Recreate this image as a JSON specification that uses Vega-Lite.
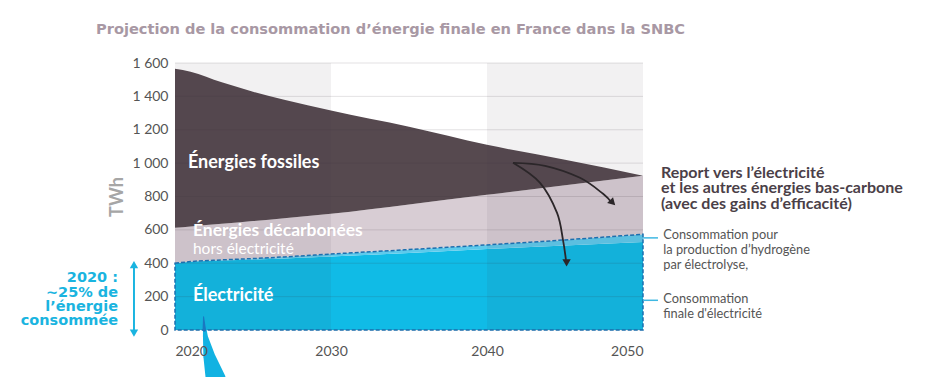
{
  "$schema": "https://vega.github.io/schema/vega-lite/v6.json",
  "width": 468,
  "height": 267,
  "autosize": {"type": "none"},
  "padding": {"left": 175, "top": 63, "right": 302, "bottom": 47},
  "background": "white",
  "config": {"view": {"stroke": null}, "font": "Lato", "axisY": {"labelOverlap": false}},
  "title": {
    "text": "Projection de la consommation d’énergie finale en France dans la SNBC",
    "anchor": "start", "frame": "group", "dx": -79, "offset": 19,
    "fontSize": 14.6, "fontWeight": "bold", "color": "#a898a4", "font": "DejaVu Sans"
  },
  "datasets": {
    "energy": [
      {"year": 2020, "elec": 400, "elecH2": 400, "decTop": 612, "total": 1566},
      {"year": 2021, "elec": 409, "elecH2": 410, "decTop": 620, "total": 1548},
      {"year": 2023, "elec": 416, "elecH2": 420, "decTop": 636, "total": 1484},
      {"year": 2025, "elec": 422, "elecH2": 428, "decTop": 653, "total": 1428},
      {"year": 2027, "elec": 428, "elecH2": 438, "decTop": 670, "total": 1380},
      {"year": 2030, "elec": 440, "elecH2": 455, "decTop": 696, "total": 1315},
      {"year": 2035, "elec": 462, "elecH2": 482, "decTop": 752, "total": 1218},
      {"year": 2040, "elec": 486, "elecH2": 510, "decTop": 810, "total": 1110},
      {"year": 2045, "elec": 506, "elecH2": 540, "decTop": 868, "total": 1020},
      {"year": 2050, "elec": 528, "elecH2": 574, "decTop": 925, "total": 925}
    ],
    "grid": [
      {"val": 0}, {"val": 200}, {"val": 400}, {"val": 600}, {"val": 800},
      {"val": 1000}, {"val": 1200}, {"val": 1400}, {"val": 1600}
    ],
    "bands": [
      {"start": 2020, "end": 2030},
      {"start": 2040, "end": 2050}
    ],
    "arrows": [
      {"arrow": "a", "ord": 1, "year": 2041.67, "val": 1002},
      {"arrow": "a", "ord": 2, "year": 2043.72, "val": 984},
      {"arrow": "a", "ord": 3, "year": 2045.96, "val": 912},
      {"arrow": "a", "ord": 4, "year": 2047.44, "val": 816},
      {"arrow": "a", "ord": 5, "year": 2048.0, "val": 762},
      {"arrow": "b", "ord": 1, "year": 2041.67, "val": 1002},
      {"arrow": "b", "ord": 2, "year": 2043.4, "val": 882},
      {"arrow": "b", "ord": 3, "year": 2044.49, "val": 702},
      {"arrow": "b", "ord": 4, "year": 2044.87, "val": 540},
      {"arrow": "b", "ord": 5, "year": 2045.06, "val": 420}
    ],
    "heads": [
      {"year": 2048.0, "val": 768, "angle": 135},
      {"year": 2045.1, "val": 410, "angle": 180}
    ],
    "inBold": [
      {"text": "Énergies fossiles", "year": 2020.83, "val": 1002},
      {"text": "Électricité", "year": 2021.15, "val": 204}
    ],
    "inBold2": [
      {"text": "Énergies décarbonées", "year": 2021.15, "val": 596}
    ],
    "inNormal": [
      {"text": "hors électricité", "year": 2021.15, "val": 486}
    ],
    "rightBold": [
      {"text": "Report vers l’électricité", "year": 2051.15, "val": 942},
      {"text": "et les autres énergies bas-carbone", "year": 2051.15, "val": 848},
      {"text": "(avec des gains d’efficacité)", "year": 2051.15, "val": 754}
    ],
    "rightNormal": [
      {"text": "Consommation pour", "year": 2051.3, "val": 570},
      {"text": "la production d’hydrogène", "year": 2051.3, "val": 480},
      {"text": "par électrolyse,", "year": 2051.3, "val": 390},
      {"text": "Consommation", "year": 2051.3, "val": 186},
      {"text": "finale d'électricité", "year": 2051.3, "val": 96}
    ],
    "ticks": [
      {"x1": 2050, "x2": 2050.96, "val": 552},
      {"x1": 2050, "x2": 2050.96, "val": 178}
    ],
    "leftText": [
      {"text": "2020 :", "year": 2016.35, "val": 312},
      {"text": "~25% de", "year": 2016.35, "val": 222},
      {"text": "l’énergie", "year": 2016.35, "val": 138},
      {"text": "consommée", "year": 2016.35, "val": 54}
    ],
    "dbl": [
      {"year": 2017.37, "v1": 380, "v2": -8}
    ],
    "dblHeads": [
      {"year": 2017.37, "val": 385, "angle": 0},
      {"year": 2017.37, "val": -12, "angle": 180}
    ],
    "swoosh": [
      {"ord": 1, "year": 2021.83, "val": 80, "w": 1},
      {"ord": 2, "year": 2021.95, "val": -40, "w": 5},
      {"ord": 3, "year": 2022.2, "val": -160, "w": 12},
      {"ord": 4, "year": 2022.6, "val": -290, "w": 20}
    ],
    "swooshIn": [
      {"ord": 1, "year": 2021.83, "val": 80, "w": 1},
      {"ord": 2, "year": 2021.88, "val": 0, "w": 3.5}
    ]
  },
  "layer": [
    {
      "data": {"name": "energy"},
      "mark": {"type": "area", "interpolate": "monotone", "color": "#10bbe6"},
      "encoding": {
        "x": {"field": "year", "type": "quantitative",
          "scale": {"domain": [2020, 2050], "nice": false, "zero": false},
          "axis": {"values": [2020, 2030, 2040, 2050], "format": "d", "title": null, "ticks": false, "domain": false, "grid": false,
            "labelFontSize": 14, "labelColor": "#555555", "labelPadding": 14, "labelFont": "Lato", "zindex": 1}},
        "y": {"field": "elec", "type": "quantitative",
          "scale": {"domain": [0, 1600], "nice": false}},
        "y2": {"datum": 0}
      }
    },
    {
      "data": {"name": "energy"},
      "mark": {"type": "area", "interpolate": "monotone", "color": "#5ecaec"},
      "encoding": {
        "x": {"field": "year", "type": "quantitative"},
        "y": {"field": "elecH2", "type": "quantitative"},
        "y2": {"field": "elec"}
      }
    },
    {
      "data": {"name": "energy"},
      "mark": {"type": "area", "interpolate": "monotone", "color": "#d8cdd4"},
      "encoding": {
        "x": {"field": "year", "type": "quantitative"},
        "y": {"field": "decTop", "type": "quantitative"},
        "y2": {"field": "elecH2"}
      }
    },
    {
      "data": {"name": "energy"},
      "mark": {"type": "area", "interpolate": "monotone", "color": "#56494f"},
      "encoding": {
        "x": {"field": "year", "type": "quantitative"},
        "y": {"field": "total", "type": "quantitative"},
        "y2": {"field": "decTop"}
      }
    },
    {
      "data": {"name": "bands"},
      "mark": {"type": "rect", "color": "#4a3a48", "opacity": 0.07},
      "encoding": {
        "x": {"field": "start", "type": "quantitative"},
        "x2": {"field": "end"},
        "y": {"datum": 0},
        "y2": {"datum": 1600}
      }
    },
    {
      "data": {"name": "grid"},
      "mark": {"type": "rule", "color": "#3a2f38", "opacity": 0.14, "strokeWidth": 1},
      "encoding": {
        "y": {"field": "val", "type": "quantitative",
          "axis": {"values": [0, 200, 400, 600, 800, 1000, 1200, 1400, 1600], "format": ",d",
            "labelExpr": "replace(datum.label, ',', ' ')", "labelOverlap": false, "tickCount": 9,
            "title": "TWh", "titleFontSize": 18, "titleColor": "#a6a6a6", "titleFontWeight": "bold", "titlePadding": 5, "titleFont": "Lato",
            "ticks": false, "domain": false, "grid": false,
            "labelFontSize": 14, "labelColor": "#555555", "labelPadding": 7, "labelFont": "Lato"}}
      }
    },
    {
      "data": {"name": "energy"},
      "mark": {"type": "area", "interpolate": "monotone", "fillOpacity": 0, "stroke": "#1d6fae", "strokeWidth": 1.5, "strokeDash": [4, 2]},
      "encoding": {
        "x": {"field": "year", "type": "quantitative"},
        "y": {"field": "elecH2", "type": "quantitative"},
        "y2": {"datum": 0}
      }
    },
    {
      "data": {"name": "arrows"},
      "mark": {"type": "line", "interpolate": "cardinal", "color": "#2b2629", "strokeWidth": 1.8},
      "encoding": {
        "x": {"field": "year", "type": "quantitative"},
        "y": {"field": "val", "type": "quantitative"},
        "detail": {"field": "arrow"},
        "order": {"field": "ord"}
      }
    },
    {
      "data": {"name": "heads"},
      "mark": {"type": "point", "shape": "triangle", "filled": true, "color": "#2b2629", "size": 70, "opacity": 1},
      "encoding": {
        "x": {"field": "year", "type": "quantitative"},
        "y": {"field": "val", "type": "quantitative"},
        "angle": {"field": "angle", "type": "quantitative", "scale": null}
      }
    },
    {
      "data": {"name": "inBold"},
      "mark": {"type": "text", "align": "left", "baseline": "middle", "color": "white", "fontWeight": "bold", "fontSize": 18, "font": "Lato"},
      "encoding": {
        "x": {"field": "year", "type": "quantitative"},
        "y": {"field": "val", "type": "quantitative"},
        "text": {"field": "text"}
      }
    },
    {
      "data": {"name": "inBold2"},
      "mark": {"type": "text", "align": "left", "baseline": "middle", "color": "white", "fontWeight": "bold", "fontSize": 17.5, "font": "Lato"},
      "encoding": {
        "x": {"field": "year", "type": "quantitative"},
        "y": {"field": "val", "type": "quantitative"},
        "text": {"field": "text"}
      }
    },
    {
      "data": {"name": "inNormal"},
      "mark": {"type": "text", "align": "left", "baseline": "middle", "color": "white", "fontSize": 15.5, "font": "Lato"},
      "encoding": {
        "x": {"field": "year", "type": "quantitative"},
        "y": {"field": "val", "type": "quantitative"},
        "text": {"field": "text"}
      }
    },
    {
      "data": {"name": "rightBold"},
      "mark": {"type": "text", "align": "left", "baseline": "middle", "color": "#4b3f48", "fontWeight": "bold", "fontSize": 16, "font": "Lato"},
      "encoding": {
        "x": {"field": "year", "type": "quantitative"},
        "y": {"field": "val", "type": "quantitative"},
        "text": {"field": "text"}
      }
    },
    {
      "data": {"name": "rightNormal"},
      "mark": {"type": "text", "align": "left", "baseline": "middle", "color": "#555555", "fontSize": 12.8, "font": "Lato"},
      "encoding": {
        "x": {"field": "year", "type": "quantitative"},
        "y": {"field": "val", "type": "quantitative"},
        "text": {"field": "text"}
      }
    },
    {
      "data": {"name": "ticks"},
      "mark": {"type": "rule", "color": "#3fb8e2", "strokeWidth": 1.5},
      "encoding": {
        "x": {"field": "x1", "type": "quantitative"},
        "x2": {"field": "x2"},
        "y": {"field": "val", "type": "quantitative"}
      }
    },
    {
      "data": {"name": "leftText"},
      "mark": {"type": "text", "align": "right", "baseline": "middle", "color": "#1ab4e0", "fontWeight": "bold", "fontSize": 14.5, "font": "DejaVu Sans"},
      "encoding": {
        "x": {"field": "year", "type": "quantitative"},
        "y": {"field": "val", "type": "quantitative"},
        "text": {"field": "text"}
      }
    },
    {
      "data": {"name": "dbl"},
      "mark": {"type": "rule", "color": "#1ab4e0", "strokeWidth": 2},
      "encoding": {
        "x": {"field": "year", "type": "quantitative"},
        "y": {"field": "v1", "type": "quantitative"},
        "y2": {"field": "v2"}
      }
    },
    {
      "data": {"name": "dblHeads"},
      "mark": {"type": "point", "shape": "triangle", "filled": true, "color": "#1ab4e0", "size": 70, "opacity": 1},
      "encoding": {
        "x": {"field": "year", "type": "quantitative"},
        "y": {"field": "val", "type": "quantitative"},
        "angle": {"field": "angle", "type": "quantitative", "scale": null}
      }
    },
    {
      "data": {"name": "swoosh"},
      "mark": {"type": "trail", "color": "#12b2e2"},
      "encoding": {
        "x": {"field": "year", "type": "quantitative"},
        "y": {"field": "val", "type": "quantitative"},
        "order": {"field": "ord"},
        "size": {"field": "w", "type": "quantitative", "scale": null, "legend": null}
      }
    },
    {
      "data": {"name": "swooshIn"},
      "mark": {"type": "trail", "color": "#1a78c0"},
      "encoding": {
        "x": {"field": "year", "type": "quantitative"},
        "y": {"field": "val", "type": "quantitative"},
        "order": {"field": "ord"},
        "size": {"field": "w", "type": "quantitative", "scale": null, "legend": null}
      }
    }
  ]
}
